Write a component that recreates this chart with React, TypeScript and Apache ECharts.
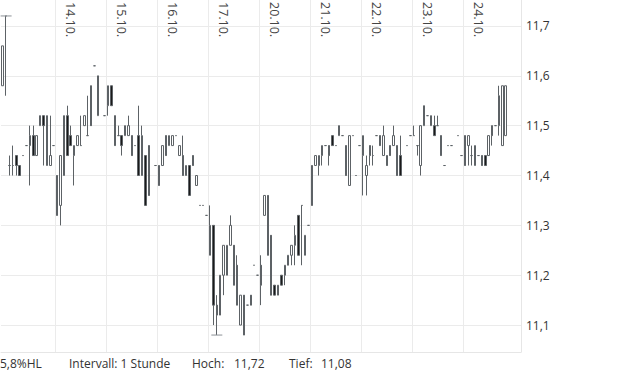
import React, { useEffect, useRef } from 'react';
import * as echarts from 'echarts';

// Sessions shown on the hourly chart
const previousSession = '10.10.';
const sessionDays = ['13.10.', '14.10.', '15.10.', '16.10.', '17.10.', '20.10.', '21.10.', '22.10.', '23.10.', '24.10.'];
const labelledDays = ['14.10.', '15.10.', '16.10.', '17.10.', '20.10.', '21.10.', '22.10.', '23.10.', '24.10.'];
const sessionHours = ['08:00', '09:00', '10:00', '11:00', '12:00', '13:00', '14:00', '15:00', '16:00', '17:00', '18:00', '19:00', '20:00', '21:00', '22:00'];
const sessionOpenHour = '08:00';
const dayLabelHour = '12:00';
const emptySlots = ['frei-1', 'frei-2'];
const intervalText = 'Intervall: 1 Stunde';

// Hourly OHLC values (one line per session)
const open = [
  11.58,
  11.72, 11.42, 11.42, 11.44, 11.42, 11.44, 11.46, 11.46, 11.48, 11.44, 11.50, 11.52, 11.42, 11.42, 11.46,
  11.40, 11.34, 11.40, 11.52, 11.48, 11.44, 11.46, 11.46, 11.50, 11.48, 11.58, 11.62, 11.52, null, 11.52,
  11.54, 11.58, 11.52, 11.48, 11.48, 11.48, 11.48, 11.48, 11.46, 11.48, 11.40, 11.44, 11.46, null, 11.42,
  11.42, 11.42, 11.48, 11.46, 11.46, 11.48, 11.44, 11.44, 11.40, 11.42, 11.44, 11.38, 11.34, 11.34, 11.32,
  11.24, 11.30, 11.14, 11.12, 11.20, 11.20, 11.26, 11.26, 11.22, 11.10, 11.16, 11.14, 11.16, 11.22, 11.20,
  11.22, 11.32, 11.36, 11.28, 11.18, 11.16, 11.20, 11.20, 11.22, 11.24, 11.26, 11.32, 11.34, 11.24, 11.30,
  11.42, 11.42, 11.42, 11.44, 11.46, 11.46, 11.48, 11.46, 11.48, 11.48, 11.46, 11.38, 11.48, 11.40, 11.46,
  11.44, 11.40, 11.46, 11.44, 11.48, 11.48, 11.44, 11.44, 11.46, 11.46, 11.46, 11.44, null, 11.46, 11.48,
  11.48, 11.46, 11.42, 11.50, 11.52, 11.50, 11.50, 11.50, 11.48, 11.42, 11.46, 11.46, null, 11.48, 11.44,
  11.48, 11.46, 11.44, 11.42, 11.44, 11.44, 11.44, 11.44, 11.50, 11.50, 11.50, 11.46, 11.48,
];
const close = [
  11.66,
  11.72, 11.42, 11.42, 11.42, 11.40, 11.44, 11.46, 11.48, 11.44, 11.48, 11.52, 11.50, 11.52, 11.44, 11.46,
  11.32, 11.44, 11.52, 11.44, 11.46, 11.46, 11.48, 11.46, 11.52, 11.48, 11.50, 11.62, 11.60, null, 11.52,
  11.58, 11.54, 11.46, 11.48, 11.46, 11.50, 11.50, 11.44, 11.46, 11.40, 11.48, 11.34, 11.36, null, 11.42,
  11.38, 11.46, 11.44, 11.48, 11.48, 11.48, 11.46, 11.40, 11.42, 11.36, 11.42, 11.40, 11.34, 11.34, 11.32,
  11.30, 11.14, 11.12, 11.20, 11.26, 11.26, 11.30, 11.18, 11.14, 11.16, 11.08, 11.14, 11.14, 11.22, 11.20,
  11.18, 11.36, 11.24, 11.16, 11.16, 11.18, 11.18, 11.22, 11.24, 11.26, 11.28, 11.24, 11.34, 11.28, 11.30,
  11.34, 11.44, 11.44, 11.46, 11.46, 11.44, 11.46, 11.46, 11.50, 11.48, 11.40, 11.48, 11.48, 11.40, 11.46,
  11.48, 11.42, 11.44, 11.44, 11.48, 11.46, 11.48, 11.42, 11.44, 11.48, 11.40, 11.40, null, 11.46, 11.48,
  11.48, 11.46, 11.50, 11.54, 11.52, 11.52, 11.48, 11.50, 11.44, 11.42, 11.46, 11.46, null, 11.48, 11.44,
  11.42, 11.48, 11.44, 11.46, 11.44, 11.42, 11.42, 11.48, 11.48, 11.50, 11.56, 11.58, 11.58,
];
const low = [
  11.58,
  11.56, 11.40, 11.40, 11.40, 11.40, 11.44, 11.46, 11.38, 11.44, 11.44, 11.50, 11.42, 11.42, 11.42, 11.46,
  11.32, 11.30, 11.40, 11.44, 11.46, 11.38, 11.46, 11.46, 11.50, 11.48, 11.50, 11.62, 11.52, null, 11.52,
  11.52, 11.54, 11.46, 11.48, 11.44, 11.48, 11.48, 11.44, 11.46, 11.40, 11.40, 11.34, 11.36, null, 11.42,
  11.38, 11.42, 11.44, 11.46, 11.46, 11.48, 11.44, 11.40, 11.40, 11.36, 11.42, 11.38, 11.34, 11.34, 11.32,
  11.24, 11.10, 11.08, 11.12, 11.16, 11.20, 11.26, 11.18, 11.14, 11.10, 11.08, 11.14, 11.14, 11.22, 11.20,
  11.14, 11.32, 11.24, 11.16, 11.16, 11.16, 11.18, 11.18, 11.22, 11.22, 11.22, 11.24, 11.22, 11.24, 11.30,
  11.34, 11.42, 11.40, 11.42, 11.46, 11.42, 11.46, 11.46, 11.48, 11.48, 11.40, 11.38, 11.48, 11.40, 11.46,
  11.36, 11.36, 11.42, 11.42, 11.48, 11.46, 11.44, 11.42, 11.44, 11.46, 11.40, 11.40, null, 11.46, 11.48,
  11.48, 11.44, 11.40, 11.50, 11.52, 11.50, 11.48, 11.50, 11.44, 11.42, 11.46, 11.46, null, 11.48, 11.44,
  11.42, 11.42, 11.42, 11.42, 11.44, 11.42, 11.42, 11.44, 11.46, 11.50, 11.48, 11.46, 11.48,
];
const high = [
  11.66,
  11.72, 11.44, 11.46, 11.44, 11.42, 11.44, 11.46, 11.50, 11.50, 11.48, 11.52, 11.52, 11.52, 11.52, 11.46,
  11.40, 11.44, 11.52, 11.54, 11.50, 11.46, 11.48, 11.52, 11.52, 11.56, 11.58, 11.62, 11.60, null, 11.52,
  11.58, 11.58, 11.52, 11.50, 11.48, 11.50, 11.52, 11.48, 11.46, 11.54, 11.50, 11.44, 11.46, null, 11.42,
  11.42, 11.46, 11.48, 11.48, 11.48, 11.48, 11.46, 11.48, 11.42, 11.42, 11.44, 11.40, 11.34, 11.34, 11.32,
  11.34, 11.30, 11.16, 11.20, 11.26, 11.26, 11.32, 11.26, 11.24, 11.16, 11.16, 11.14, 11.16, 11.22, 11.20,
  11.24, 11.36, 11.36, 11.28, 11.18, 11.18, 11.20, 11.22, 11.24, 11.26, 11.30, 11.32, 11.34, 11.28, 11.30,
  11.42, 11.44, 11.44, 11.46, 11.46, 11.46, 11.48, 11.46, 11.50, 11.48, 11.46, 11.48, 11.48, 11.40, 11.46,
  11.48, 11.44, 11.46, 11.46, 11.48, 11.48, 11.50, 11.44, 11.46, 11.50, 11.46, 11.48, null, 11.46, 11.48,
  11.50, 11.46, 11.50, 11.54, 11.52, 11.52, 11.52, 11.52, 11.48, 11.42, 11.46, 11.46, null, 11.48, 11.44,
  11.48, 11.48, 11.46, 11.46, 11.44, 11.44, 11.44, 11.48, 11.50, 11.50, 11.58, 11.58, 11.58,
];

const categories: string[] = [
  `${previousSession} 22:00`,
  ...sessionDays.flatMap((d) => sessionHours.map((h) => `${d} ${h}`)),
  ...emptySlots,
];

const isLabelledAt = (v: string, hour: string) =>
  typeof v === 'string' && v.endsWith(' ' + hour) && labelledDays.includes(v.split(' ')[0]);

const fmt = (v: number, d: number) => v.toFixed(d).replace('.', ',');

export default function App() {
  const ref = useRef<HTMLDivElement>(null);

  useEffect(() => {
    document.body.style.margin = '0';
    if (!ref.current) return;
    const chart = echarts.init(ref.current, undefined, { renderer: 'svg' });

    const data = open.map((o, i) =>
      o == null ? ['-', '-', '-', '-'] : [o, close[i], low[i], high[i]]
    );

    let hiIdx = -1;
    let loIdx = -1;
    high.forEach((h, i) => {
      if (h != null && (hiIdx < 0 || h > (high[hiIdx] as number))) hiIdx = i;
    });
    low.forEach((l, i) => {
      if (l != null && (loIdx < 0 || l < (low[loIdx] as number))) loIdx = i;
    });
    const maxHigh = high[hiIdx] as number;
    const minLow = low[loIdx] as number;
    const rangePct = ((maxHigh - minLow) / minLow) * 100;

    const textStyle = (text: string, x: number) => ({
      type: 'text',
      x,
      y: 363,
      silent: true,
      style: {
        text,
        fill: '#333',
        fontSize: 12,
        fontFamily: '"Open Sans", "Noto Sans", sans-serif',
        verticalAlign: 'middle',
        align: 'left',
      },
    });

    chart.setOption({
      animation: false,
      backgroundColor: '#ffffff',
      grid: {
        left: 1,
        right: 99,
        top: 0,
        bottom: 20,
        containLabel: false,
        outerBoundsMode: 'none',
      },
      xAxis: [
        {
          type: 'category',
          data: categories,
          position: 'top',
          boundaryGap: true,
          axisLine: { show: false },
          axisTick: { show: false },
          axisLabel: {
            inside: true,
            rotate: 90,
            margin: 2,
            interval: (_i: number, v: string) => isLabelledAt(v, dayLabelHour),
            formatter: (v: string) => v.split(' ')[0],
            fontSize: 12.5,
            fontFamily: '"Open Sans", "Noto Sans", sans-serif',
            color: '#444',
            hideOverlap: false,
          },
          splitLine: {
            show: true,
            interval: (_i: number, v: string) => isLabelledAt(v, sessionOpenHour),
            lineStyle: { color: '#ebebeb', width: 1 },
          },
        },
        {
          type: 'category',
          data: categories,
          position: 'bottom',
          boundaryGap: true,
          axisLine: { show: true, lineStyle: { color: '#e6e6e6', width: 1 } },
          axisTick: { show: false },
          axisLabel: { show: false },
          splitLine: { show: false },
        },
      ],
      yAxis: {
        type: 'value',
        position: 'right',
        min: 11.046,
        max: 11.752,
        splitNumber: 7,
        axisLine: { show: true, lineStyle: { color: '#e6e6e6', width: 1 } },
        axisTick: { show: false },
        axisLabel: {
          margin: 5,
          fontSize: 12,
          fontFamily: '"Open Sans", "Noto Sans", sans-serif',
          color: '#333',
          showMinLabel: false,
          showMaxLabel: false,
          formatter: (v: number) =>
            Math.abs(v * 10 - Math.round(v * 10)) > 1e-6 ? '' : fmt(v, 1),
        },
        splitLine: {
          show: true,
          showMinLine: false,
          showMaxLine: false,
          lineStyle: { color: '#ebebeb', width: 1 },
        },
      },
      series: [
        {
          type: 'candlestick',
          xAxisIndex: 0,
          yAxisIndex: 0,
          barWidth: 2,
          silent: true,
          itemStyle: {
            color: '#ffffff',
            color0: '#1a1a1a',
            borderColor: '#5d6266',
            borderColor0: '#5d6266',
            borderWidth: 1,
          },
          data,
          markPoint: {
            silent: true,
            symbol: 'rect',
            symbolSize: [11, 1],
            label: { show: false },
            itemStyle: { color: '#8c9196' },
            data: [
              { coord: [hiIdx, maxHigh] },
              { coord: [loIdx, minLow] },
            ],
          },
        },
      ],
      graphic: [
        textStyle(`${fmt(rangePct, 1)}%HL`, 0),
        textStyle(intervalText, 69),
        textStyle('Hoch:', 192),
        textStyle(fmt(maxHigh, 2), 234),
        textStyle('Tief:', 289),
        textStyle(fmt(minLow, 2), 321),
      ],
    });

    return () => chart.dispose();
  }, []);

  return (
    <div
      ref={ref}
      style={{ position: 'fixed', left: 0, top: 0, width: 620, height: 372 }}
    />
  );
}
